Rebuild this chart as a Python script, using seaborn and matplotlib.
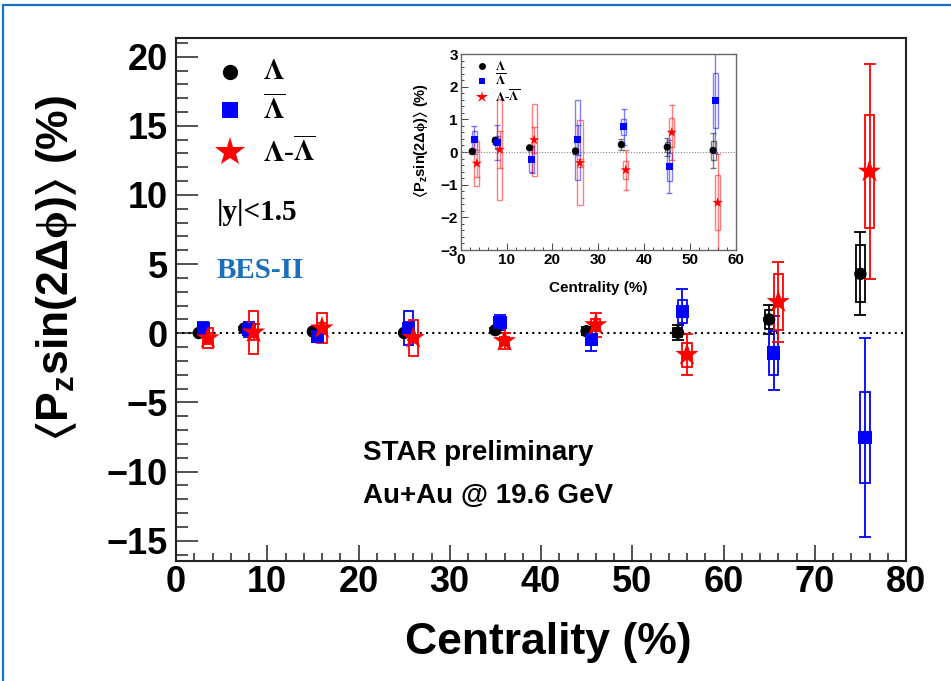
import numpy as np
import pandas as pd
import matplotlib
matplotlib.use('Agg')
import matplotlib.pyplot as plt
import seaborn as sns
from matplotlib.patches import Rectangle
from matplotlib.lines import Line2D
from matplotlib.ticker import MultipleLocator

# centrality (%) per species, shifted a bit so the points do not overlap
cent_lam = [2.5, 7.5, 15, 25, 35, 45, 55, 65, 75]
cent_lbar = [3, 8, 15.5, 25.5, 35.5, 45.5, 55.5, 65.5, 75.5]
cent_diff = [3.5, 8.5, 16, 26, 36, 46, 56, 66, 76]

# <P_z sin(2 dphi)> (%) with stat. error and sys. error
lam_val = [0.02, 0.35, 0.13, 0.03, 0.23, 0.15, 0.05, 1.0, 4.3]
lam_stat = [0.08, 0.1, 0.08, 0.08, 0.17, 0.28, 0.53, 1.05, 3.0]
lam_sys = [0.05, 0.12, 0.05, 0.05, 0.08, 0.15, 0.3, 0.7, 2.05]

lbar_val = [0.37, 0.29, -0.23, 0.37, 0.77, -0.45, 1.58, -1.43, -7.55]
lbar_stat = [0.42, 0.55, 0.4, 0.45, 0.55, 0.82, 1.6, 2.7, 7.2]
lbar_sys = [0.28, 0.2, 0.37, 1.22, 0.24, 0.43, 0.84, 1.6, 3.3]

diff_val = [-0.35, 0.07, 0.37, -0.33, -0.55, 0.6, -1.55, 2.27, 11.7]
diff_stat = [0.4, 0.57, 0.4, 0.12, 0.6, 0.85, 1.5, 2.9, 7.8]
diff_sys = [0.7, 1.55, 1.1, 1.3, 0.28, 0.45, 0.85, 2.0, 4.1]

sns.set_theme(style='ticks')
plt.rcParams['font.family'] = ['Liberation Sans', 'DejaVu Sans']
plt.rcParams['font.weight'] = 'bold'
plt.rcParams['text.color'] = 'black'
plt.rcParams['axes.labelcolor'] = 'black'
plt.rcParams['xtick.labelcolor'] = 'black'
plt.rcParams['ytick.labelcolor'] = 'black'
plt.rcParams['mathtext.fontset'] = 'custom'
plt.rcParams['mathtext.rm'] = 'Liberation Sans:bold'
plt.rcParams['mathtext.bf'] = 'Liberation Sans:bold'
plt.rcParams['mathtext.it'] = 'Liberation Serif'
plt.rcParams['mathtext.fallback'] = 'stix'

frames = []
for name, c, v, st, sy in [('lam', cent_lam, lam_val, lam_stat, lam_sys),
                           ('lbar', cent_lbar, lbar_val, lbar_stat, lbar_sys),
                           ('diff', cent_diff, diff_val, diff_stat, diff_sys)]:
    frames.append(pd.DataFrame({'species': name, 'cent': c, 'val': v, 'stat': st, 'sys': sy}))
df = pd.concat(frames, ignore_index=True)

colors = {'lam': 'black', 'lbar': '#0000ff', 'diff': '#ff0000'}
markers = {'lam': 'o', 'lbar': 's', 'diff': '*'}


def draw(ax, d, sizes, lw, alpha, capsize, boxw):
    for sp in ['lam', 'lbar', 'diff']:
        sub = d[d.species == sp]
        col = colors[sp]
        ax.errorbar(sub.cent, sub.val, yerr=sub.stat, fmt='none', ecolor=col,
                    elinewidth=lw, capsize=capsize, capthick=lw, alpha=alpha, zorder=2)
        for _, r in sub.iterrows():
            ax.add_patch(Rectangle((r.cent - boxw / 2, r.val - r.sys), boxw, 2 * r.sys,
                                   fill=False, edgecolor=col, lw=lw, alpha=alpha, zorder=2))
        sns.scatterplot(data=sub, x='cent', y='val', ax=ax, marker=markers[sp],
                        s=sizes[sp], color=col, edgecolor='none', linewidth=0,
                        legend=False, zorder=3)


fig = plt.figure(figsize=(9.51, 6.81), dpi=100)

# main panel
ax = fig.add_axes([176 / 951, 1 - 560.7 / 681, 730 / 951, 522.7 / 681])
draw(ax, df, {'lam': 80, 'lbar': 90, 'diff': 310}, 1.3, 1.0, 4, 1.0)
ax.axhline(0, color='black', ls=(0, (1, 2)), lw=1.5, zorder=1)
ax.set_xlim(0, 80)
ax.set_ylim(-16.44, 21.35)
ax.xaxis.set_major_locator(MultipleLocator(10))
ax.xaxis.set_minor_locator(MultipleLocator(2))
ax.yaxis.set_major_locator(MultipleLocator(5))
ax.yaxis.set_minor_locator(MultipleLocator(1))
ax.tick_params(axis='both', which='both', direction='in', top=False, right=False,
               width=1.1, color='#222222', labelsize=26)
ax.tick_params(axis='y', which='major', length=16, pad=6)
ax.tick_params(axis='y', which='minor', length=8.5)
ax.tick_params(axis='x', which='major', length=11.5, pad=3)
ax.tick_params(axis='x', which='minor', length=5.7)
for s in ax.spines.values():
    s.set_linewidth(1.5)
    s.set_color('#222222')
ax.set_xlabel('Centrality (%)', fontsize=32, fontweight='bold')
ax.set_ylabel(r'$\langle$P$_{\rm z}$sin(2$\Delta\phi$)$\rangle$ (%)', fontsize=32, fontweight='bold')
ax.xaxis.set_label_coords(0.51, -0.118)
ax.yaxis.set_label_coords(-0.133, 0.56)


def fx(px):
    return px / 951


def fy(py):
    return 1 - py / 681


# legend of the main panel
leg_items = [('lam', r'$\mathrm{\Lambda}$', 72), ('lbar', r'$\mathrm{\overline{\Lambda}}$', 110),
             ('diff', r'$\mathrm{\Lambda}$-$\mathrm{\overline{\Lambda}}$', 152)]
leg_ms = {'lam': 11, 'lbar': 11, 'diff': 22}
for sp, lab, py in leg_items:
    fig.add_artist(Line2D([fx(230)], [fy(py)], marker=markers[sp], color=colors[sp],
                          markersize=leg_ms[sp], markeredgewidth=0, ls='none'))
    fig.text(fx(263), fy(py), lab, fontsize=21, math_fontfamily='stix',
             family='Liberation Serif', fontweight='normal', va='center', ha='left')
fig.text(fx(217), fy(213), '|y|<1.5', fontsize=21, family='Liberation Serif',
         fontweight='bold', va='center')
fig.text(fx(217), fy(270), 'BES-II', fontsize=21, family='Liberation Serif',
         fontweight='bold', color='#1a6fbf', va='center')
fig.text(fx(363), fy(453), 'STAR preliminary', fontsize=20, fontweight='bold', va='center')
fig.text(fx(363), fy(496), 'Au+Au @ 19.6 GeV', fontsize=20, fontweight='bold', va='center')

# inset with the 0-60% points
ins = fig.add_axes([460.7 / 951, 1 - 250 / 681, 275.3 / 951, 196 / 681])
draw(ins, df[df.cent < 60], {'lam': 26, 'lbar': 26, 'diff': 60}, 1.0, 0.5, 2, 1.1)
ins.axhline(0, color='#888888', ls=(0, (1, 1.5)), lw=0.8, zorder=1)
ins.set_xlim(0, 60)
ins.set_ylim(-3, 3)
ins.xaxis.set_major_locator(MultipleLocator(10))
ins.xaxis.set_minor_locator(MultipleLocator(2))
ins.yaxis.set_major_locator(MultipleLocator(1))
ins.yaxis.set_minor_locator(MultipleLocator(0.2))
ins.tick_params(axis='both', which='both', direction='in', top=False, right=False,
                width=0.7, color='#444444', labelsize=11, pad=2)
ins.tick_params(which='major', length=5)
ins.tick_params(which='minor', length=2.5)
for s in ins.spines.values():
    s.set_linewidth(1.0)
    s.set_color('#666666')
ins.set_xlabel('Centrality (%)', fontsize=11, fontweight='bold')
ins.set_ylabel(r'$\langle$P$_{\rm z}$sin(2$\Delta\phi$)$\rangle$ (%)', fontsize=10.5, fontweight='bold')
ins.xaxis.set_label_coords(0.5, -0.16)
ins.yaxis.set_label_coords(-0.111, 0.561)
for sp, lab, py in [('lam', r'$\mathrm{\Lambda}$', 66), ('lbar', r'$\mathrm{\overline{\Lambda}}$', 81),
                    ('diff', r'$\mathrm{\Lambda}$-$\mathrm{\overline{\Lambda}}$', 97)]:
    fig.add_artist(Line2D([fx(481.7)], [fy(py)], marker=markers[sp], color=colors[sp],
                          markersize={'lam': 5, 'lbar': 5, 'diff': 9}[sp], markeredgewidth=0, ls='none'))
    fig.text(fx(495), fy(py), lab, fontsize=9.5, math_fontfamily='stix',
             family='Liberation Serif', fontweight='normal', va='center', ha='left')

# blue frame around the slide
fig.add_artist(Line2D([fx(3), fx(3)], [0, fy(5)], color='#1a73c2', lw=1.6))
fig.add_artist(Line2D([fx(3), 1], [fy(5), fy(5)], color='#1a73c2', lw=1.6))

fig.savefig('out.png', dpi=100)
